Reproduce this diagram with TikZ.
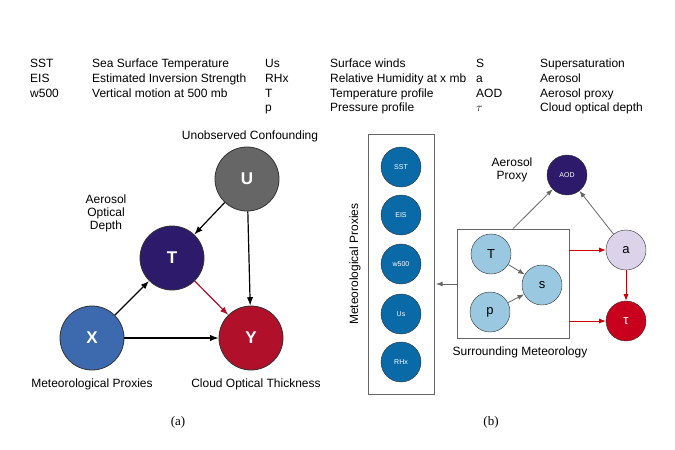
\documentclass[tikz,border=0pt]{standalone}
\usepackage{fontspec}
\setmainfont{Liberation Sans}
\usetikzlibrary{arrows.meta}
\definecolor{ugray}{HTML}{666666}
\definecolor{tblue}{HTML}{2E1A6B}
\definecolor{xblue}{HTML}{3D6AAE}
\definecolor{yred}{HTML}{B0102A}
\definecolor{mblue}{HTML}{0A6AA8}
\definecolor{lblue}{HTML}{9AC8E0}
\definecolor{lav}{HTML}{DCD3EA}
\definecolor{tred}{HTML}{C8001E}
\tikzset{
    bignode/.style = {circle, thick, draw=black!80, minimum size=64pt, inner sep=0pt, text=white, font=\bfseries\fontsize{17}{20}\selectfont},
    proxnode/.style = {circle, draw=black!80, fill=mblue, minimum size=40pt, inner sep=0pt, text=white!85, font=\fontsize{7}{8}\selectfont},
    metnode/.style = {circle, draw=black!80, fill=lblue, minimum size=40pt, inner sep=0pt, font=\fontsize{13}{15}\selectfont},
    edgen/.style = {-Latex, very thick, black},
    edger/.style = {-Latex, very thick, yred},
    edgeg/.style = {-Latex, thick, ugray},
    edgerr/.style = {-Latex, thick, red!80!black},
    lbl/.style = {font=\fontsize{12}{13}\selectfont, align=center},
    leg/.style = {font=\fontsize{12}{14}\selectfont, anchor=base west, inner sep=0pt}
}
\begin{document}
\begin{tikzpicture}[x=1pt,y=-1pt]
  \useasboundingbox (0,0) rectangle (675,450);
  % legend
  \foreach \x/\y/\t in {30/67/SST, 92/67/Sea Surface Temperature, 265/67/Us, 330/67/Surface winds, 476/67/S, 540/67/Supersaturation,
      30/82/EIS, 92/82/Estimated Inversion Strength, 265/82/RHx, 330/82/Relative Humidity at x mb, 476/82/a, 540/82/Aerosol,
      30/97/w500, 92/97/Vertical motion at 500 mb, 265/97/T, 330/97/Temperature profile, 476/97/AOD, 540/97/Aerosol proxy,
      265/111/p, 330/111/Pressure profile, 540/111/Cloud optical depth}
    \node[leg] at (\x,\y) {\t};
  \node[leg] at (476,111) {$\tau$};

  % (a)
  \node[bignode, fill=ugray] (U) at (247,179) {U};
  \node[bignode, fill=tblue] (T) at (172,258) {T};
  \node[bignode, fill=xblue] (X) at (92,338) {X};
  \node[bignode, fill=yred] (Y) at (251,338) {Y};
  \node[lbl] (lu) at (250,136) {Unobserved Confounding};
  \node[lbl] (lt) at (106,213) {Aerosol\\Optical\\Depth};
  \node[lbl] (lx) at (92,384) {Meteorological Proxies};
  \node[lbl] (ly) at (256,384) {Cloud Optical Thickness};
  \draw[edgen] (U) -- (T);
  \draw[edgen] (U) -- (Y);
  \draw[edgen] (X) -- (T);
  \draw[edgen] (X) -- (Y);
  \draw[edger] (T) -- (Y);
  \node[font=\fontsize{13}{15}\selectfont] (capa) at (178,422) {\fontspec{Liberation Serif}(a)};

  % (b)
  \node[draw=ugray, thick, minimum width=66pt, minimum height=260pt] (pbox) at (401,264) {};
  \foreach \n/\y in {SST/167, EIS/215, w500/264, Us/314, RHx/362}
    \node[proxnode] (\n) at (401,\y) {\n};
  \node[rotate=90, lbl] (lmp) at (355,264) {Meteorological Proxies};
  \node[draw=ugray, thick, minimum width=112pt, minimum height=109pt] (mbox) at (513,283.5) {};
  \node[metnode] (mT) at (491,254) {T};
  \node[metnode] (ms) at (542,285) {s};
  \node[metnode] (mp) at (490,312) {p};
  \node[metnode, fill=lav] (ma) at (626,250) {a};
  \node[metnode, fill=tred, text=white] (mtau) at (626,321) {τ};
  \node[proxnode, fill=tblue] (AOD) at (567,175) {AOD};
  \node[lbl] (lap) at (512,170) {Aerosol\\Proxy};
  \node[lbl] (lsm) at (520,352) {Surrounding Meteorology};
  \coordinate (pl) at (436,284);
  \draw[edgeg] (mbox.west |- pl) -- (pl);
  \draw[edgeg] (mbox.north) -- (AOD);
  \draw[edgeg] (ma) -- (AOD);
  \draw[edgeg] (mT) -- (ms);
  \draw[edgeg] (mp) -- (ms);
  \draw[edgerr] (mbox.east |- ma) -- (ma);
  \draw[edgerr] (mbox.east |- mtau) -- (mtau);
  \draw[edgerr] (ma) -- (mtau);
  \node[font=\fontsize{13}{15}\selectfont] (capb) at (491,422) {\fontspec{Liberation Serif}(b)};
\end{tikzpicture}
\end{document}
